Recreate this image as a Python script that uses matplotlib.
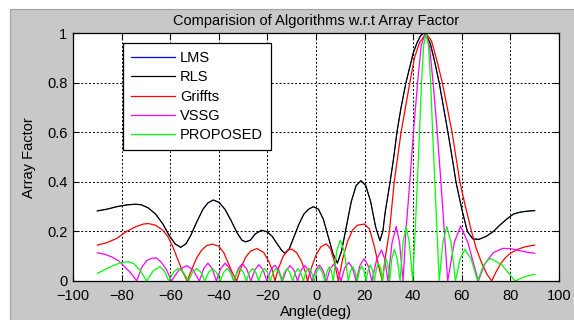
import matplotlib
matplotlib.use("Agg")
import matplotlib.pyplot as plt
from matplotlib.patches import Rectangle

plt.rcParams['font.family'] = ['Liberation Sans', 'DejaVu Sans']

# valores (angulo en grados, factor de arreglo)
rls_deg = [-90, -86, -82, -78, -74.5, -72, -69, -66, -63, -60.5, -58, -55.7, -53.5, -51.5, -49, -46.5,
           -44.5, -42.3, -40, -37.5, -35, -32.5, -30.5, -29, -27, -25, -22.4, -20, -18, -16, -14,
           -12.8, -11, -9, -7, -5, -3, -1.1, 1, 3, 5, 7, 8.8, 10.5, 12.5, 14.5, 16.5, 18.5, 20.5,
           22.5, 24.5, 26.3, 27.5, 28.5, 30.5, 32, 33.3, 35, 37, 38.5, 40, 41.5, 43, 44.2, 45.5, 47,
           48.5, 50.7, 52.5, 54.3, 56, 57.6, 60, 62.3, 64.5, 67, 70, 73, 75.7, 78.5, 81.2, 84, 87, 90]
rls_af = [0.283, 0.29, 0.3, 0.307, 0.31, 0.308, 0.295, 0.27, 0.23, 0.185, 0.15, 0.136, 0.15, 0.185,
          0.24, 0.29, 0.315, 0.327, 0.318, 0.29, 0.245, 0.195, 0.165, 0.158, 0.165, 0.19, 0.205, 0.198,
          0.18, 0.15, 0.122, 0.112, 0.13, 0.18, 0.23, 0.27, 0.29, 0.30, 0.29, 0.25, 0.18, 0.11, 0.072,
          0.12, 0.22, 0.32, 0.385, 0.405, 0.385, 0.32, 0.22, 0.163, 0.2, 0.28, 0.4, 0.5, 0.6, 0.7, 0.8,
          0.86, 0.92, 0.96, 0.99, 1.0, 0.99, 0.96, 0.9, 0.8, 0.7, 0.6, 0.5, 0.4, 0.29, 0.2, 0.17,
          0.168, 0.18, 0.2, 0.226, 0.25, 0.27, 0.278, 0.282, 0.284]

# LMS queda tapado por RLS en la figura original
lms_deg = list(rls_deg)
lms_af = list(rls_af)

grif_deg = [-90, -86, -82, -78, -74, -71, -69, -66, -63, -61, -59, -57, -55, -53, -51, -49, -47, -45,
            -42.6, -40, -38, -36, -34.5, -32.7, -31, -29, -27, -24.3, -21.5, -19.5, -18, -16.9, -15.5,
            -13.5, -11.5, -10, -8, -6, -4.5, -3.5, -2, 0, 2, 4.2, 6, 7.5, 9.2, 11, 13, 15, 17, 19.9, 22,
            24, 25.8, 27.3, 28.6, 30.2, 32.2, 35, 36.8, 38.6, 40.5, 42.5, 45.2, 47.5, 49.5, 52, 54, 56,
            57.6, 59.2, 61.5, 64, 66, 68.3, 70.5, 72.3, 74, 76, 78, 80, 83, 86, 90]
grif_af = [0.145, 0.155, 0.172, 0.2, 0.22, 0.23, 0.232, 0.225, 0.205, 0.18, 0.14, 0.09, 0.04, 0.0,
           0.05, 0.095, 0.125, 0.143, 0.149, 0.14, 0.115, 0.07, 0.035, 0.0, 0.05, 0.095, 0.12, 0.131,
           0.115, 0.08, 0.045, 0.0, 0.05, 0.1, 0.125, 0.129, 0.115, 0.08, 0.04, 0.0, 0.05, 0.105, 0.138,
           0.15, 0.13, 0.08, 0.0, 0.09, 0.16, 0.205, 0.225, 0.23, 0.21, 0.14, 0.06, 0.0, 0.1, 0.2, 0.4,
           0.6, 0.7, 0.8, 0.9, 0.96, 1.0, 0.97, 0.9, 0.8, 0.7, 0.6, 0.5, 0.4, 0.3, 0.2, 0.13, 0.07,
           0.025, 0.0, 0.035, 0.07, 0.095, 0.112, 0.128, 0.138, 0.145]

vssg_deg = [-90, -87, -84, -81, -78.5, -76, -73.8, -71.7, -69.7, -67.6, -65.6, -63.6, -61.5, -59.5,
            -56.4, -53.2, -50.6, -48, -46.2, -44.5, -42.7, -41, -39.2, -37.4, -35.6, -33.8, -32, -30.3,
            -28.5, -26.8, -25.1, -23.5, -21.8, -20.2, -18.6, -17, -15.4, -13.8, -12.2, -10.7, -9.1,
            -7.6, -6.1, -4.6, -3.1, -1.6, -0.1, 1.4, 2.8, 4.3, 5.8, 7.3, 8.8, 10.3, 11.8, 13.4, 15,
            16.5, 18.1, 19.8, 21.4, 23, 25, 27, 28.3, 29.6, 31.3, 33, 34.4, 35.8, 37, 38.6, 40.1, 41.8,
            43.3, 45, 46.7, 48.2, 49.9, 51.4, 52.8, 54.2, 56.9, 59.5, 62.5, 66.8, 69.5, 73, 77, 80.5,
            84, 87, 90]
vssg_af = [0.114, 0.108, 0.097, 0.08, 0.055, 0.03, 0.0, 0.055, 0.082, 0.092, 0.093, 0.075, 0.045, 0.0,
           0.045, 0.062, 0.045, 0.0, 0.05, 0.072, 0.05, 0.0, 0.05, 0.072, 0.05, 0.0, 0.049, 0.07, 0.049,
           0.0, 0.046, 0.066, 0.046, 0.0, 0.045, 0.064, 0.045, 0.0, 0.044, 0.062, 0.044, 0.0, 0.044,
           0.062, 0.044, 0.0, 0.045, 0.064, 0.045, 0.0, 0.048, 0.068, 0.048, 0.0, 0.053, 0.075, 0.053,
           0.0, 0.063, 0.09, 0.063, 0.0, 0.088, 0.125, 0.088, 0.0, 0.155, 0.22, 0.155, 0.0, 0.2, 0.4,
           0.6, 0.8, 0.95, 1.0, 0.95, 0.8, 0.6, 0.4, 0.2, 0.0, 0.155, 0.222, 0.155, 0.0, 0.07, 0.115,
           0.132, 0.13, 0.122, 0.116, 0.112]

prop_deg = [-90, -87, -84, -80.5, -77.2, -75, -72.5, -69.7, -67, -64.2, -62.4, -60.6, -58.6, -56.7,
            -54.6, -52.5, -50.8, -49.1, -47.4, -45.7, -44.2, -42.6, -41, -39.4, -38, -36.6, -35.2,
            -33.8, -32.5, -31.2, -29.9, -28.6, -27.4, -26.1, -24.8, -23.6, -22.4, -21.2, -20, -18.8,
            -17.6, -16.5, -15.3, -14.1, -13, -11.9, -10.8, -9.6, -8.5, -7.4, -6.3, -5.2, -4.1, -3,
            -1.9, -0.8, 0.3, 1.4, 2.5, 3.6, 4.6, 5.5, 6.3, 7.1, 8.5, 10, 11.6, 13.3, 14.2, 15.1, 16, 17,
            17.9, 18.8, 19.7, 20.6, 21.5, 22.3, 23.2, 24, 24.9, 25.7, 26.6, 27.4, 28.1, 28.8, 29.6,
            30.3, 31.2, 32.2, 33.4, 34.6, 35.8, 37.1, 38.4, 39.8, 40.8, 41.7, 42.6, 43.4, 44.3, 45.3,
            46.3, 47.2, 48, 48.9, 49.8, 50.7, 52.2, 53.8, 55.6, 57.4, 59.3, 61.3, 63.8, 66.5, 69, 71.6,
            76.5, 81.9, 86, 90]
prop_af = [0.031, 0.045, 0.06, 0.074, 0.078, 0.07, 0.045, 0.0, 0.041, 0.058, 0.041, 0.0, 0.036, 0.051,
           0.036, 0.0, 0.036, 0.05, 0.036, 0.0, 0.035, 0.05, 0.035, 0.0, 0.035, 0.05, 0.035, 0.0, 0.035,
           0.05, 0.035, 0.0, 0.035, 0.05, 0.035, 0.0, 0.035, 0.05, 0.035, 0.0, 0.035, 0.05, 0.035, 0.0,
           0.035, 0.05, 0.035, 0.0, 0.035, 0.05, 0.035, 0.0, 0.037, 0.052, 0.037, 0.0, 0.038, 0.055,
           0.038, 0.0, 0.04, 0.057, 0.04, 0.0, 0.12, 0.165, 0.12, 0.0, 0.04, 0.058, 0.04, 0.0, 0.042,
           0.06, 0.042, 0.0, 0.046, 0.065, 0.046, 0.0, 0.05, 0.072, 0.05, 0.0, 0.064, 0.09, 0.064, 0.0,
           0.09, 0.128, 0.09, 0.0, 0.155, 0.22, 0.155, 0.0, 0.2, 0.4, 0.6, 0.8, 0.95, 1.0, 0.95, 0.8,
           0.6, 0.4, 0.2, 0.0, 0.155, 0.22, 0.155, 0.0, 0.09, 0.128, 0.09, 0.0, 0.065, 0.092, 0.065,
           0.0, 0.018, 0.027]

etiquetas = ['LMS', 'RLS', 'Griffts', 'VSSG', 'PROPOSED']
x_ticks = [-100, -80, -60, -40, -20, 0, 20, 40, 60, 80, 100]
y_ticks = [0, 0.2, 0.4, 0.6, 0.8, 1]

fig = plt.figure(figsize=(5.74, 3.2), dpi=100, facecolor='white')
# fondo gris tipo ventana de MATLAB
fondo = Rectangle((10 / 574, -0.01), 1, (320 - 9) / 320 + 0.01, transform=fig.transFigure,
                  facecolor='#c8c8c8', edgecolor='#a0a0a0', linewidth=0.8, zorder=-10)
fig.patches.append(fondo)

ax = fig.add_axes([73 / 574, 39 / 320, 486 / 574, 247.7 / 320])
ax.set_facecolor('white')
ax.set_zorder(1)

ax.plot(lms_deg, lms_af, color='#0000ff', lw=0.5, label=etiquetas[0])
ax.plot(rls_deg, rls_af, color='black', lw=0.9, label=etiquetas[1])
ax.plot(grif_deg, grif_af, color='#ff0000', lw=0.9, label=etiquetas[2])
ax.plot(vssg_deg, vssg_af, color='#ff00ff', lw=0.9, label=etiquetas[3])
ax.plot(prop_deg, prop_af, color='#00ff00', lw=0.9, label=etiquetas[4])

ax.set_xlim(-100, 100)
ax.set_ylim(0, 1)
ax.set_xticks(x_ticks)
ax.set_yticks(y_ticks)
ax.set_yticklabels(['0', '0.2', '0.4', '0.6', '0.8', '1'])
ax.grid(True, color='black', linestyle=(0, (2, 2)), linewidth=0.7)
ax.tick_params(direction='in', top=True, right=True, length=4, labelsize=10.5)
ax.tick_params(axis='x', pad=6)
ax.tick_params(axis='y', pad=4)
for s in ax.spines.values():
    s.set_linewidth(0.9)

ax.set_title('Comparision of Algorithms w.r.t Array Factor', fontsize=10.5, pad=6)
ax.set_xlabel('Angle(deg)', fontsize=10.5, labelpad=1)
ax.set_ylabel('Array Factor', fontsize=10.5, labelpad=8)

leg = ax.legend(loc='upper left', bbox_to_anchor=(0.1035, 0.96), borderaxespad=0, fancybox=False,
                framealpha=1, edgecolor='black', fontsize=10.5, handlelength=3, handletextpad=0.35,
                labelspacing=0.36, borderpad=0.55)
leg.get_frame().set_linewidth(0.9)
for h in leg.legend_handles:
    h.set_linewidth(0.9)

fig.savefig('out.png', dpi=100)
